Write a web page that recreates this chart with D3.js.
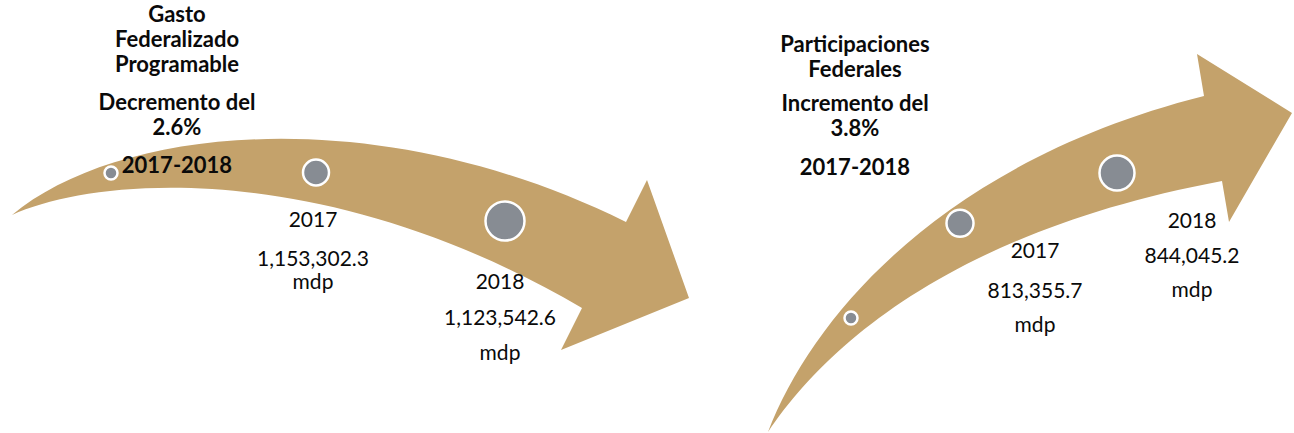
<!DOCTYPE html>
<html lang="es">
<head>
<meta charset="utf-8">
<title>Gasto Federalizado Programable y Participaciones Federales 2017-2018</title>
<script src="https://cdn.jsdelivr.net/npm/d3@7"></script>
<style>
  html, body { margin: 0; padding: 0; background: #ffffff; }
  svg { display: block; }
  text { font-family: Lato, "Open Sans", "Noto Sans", sans-serif; fill: #0a0a0a; }
  .titulo { font-weight: 700; font-size: 22px; }
  .valor { font-weight: 400; font-size: 21px; }
</style>
</head>
<body>
<svg id="chart" width="1294" height="433"></svg>
<script>
// ---- Datos (millones de pesos) ----
const years = ["2017", "2018"];
const gastoProgramable = [1153302.3, 1123542.6];
const participaciones = [813355.7, 844045.2];
const tituloGasto = ["Gasto", "Federalizado", "Programable"];
const tituloParticipaciones = ["Participaciones", "Federales"];
const unidad = "mdp";
const pasos = ["inicio", "2017", "2018"];

// ---- Geometría de cada flecha y ubicación de los textos ----
const paneles = [
  {
    titulo: tituloGasto,
    valores: gastoProgramable,
    flecha: {
      cola: [12, 215],
      arriba: [[120, 125], [380, 100]],
      muescaSup: [626, 222],
      puntaSup: [647, 180],
      punta: [689, 298],
      puntaInf: [561, 350],
      muescaInf: [582, 308],
      abajo: [[100, 175], [330, 160]]
    },
    guia: [[111, 173], [324, 148], [505, 221]],
    radios: [6.5, 13, 19.5],
    tituloX: 177,
    tituloY: [22, 47, 72],
    cambioY: [110, 135],
    periodoY: 173,
    etiquetas: [
      { x: 313, y: [227, 266, 289] },
      { x: 500, y: [289, 325, 360] }
    ]
  },
  {
    titulo: tituloParticipaciones,
    valores: participaciones,
    flecha: {
      cola: [768, 432],
      arriba: [[815, 310], [950, 160]],
      muescaSup: [1204, 96],
      puntaSup: [1197, 54],
      punta: [1292, 113],
      puntaInf: [1229, 222],
      muescaInf: [1222, 181],
      abajo: [[830, 340], [960, 230]]
    },
    guia: [[851, 318], [936, 201], [1117, 173]],
    radios: [6.5, 13.5, 17.5],
    tituloX: 855,
    tituloY: [52, 77],
    cambioY: [111, 136],
    periodoY: 175,
    etiquetas: [
      { x: 1035, y: [258, 298, 332] },
      { x: 1192, y: [228, 263, 297] }
    ]
  }
];

const colorFlecha = "#c4a26b";
const colorNodo = "#878c93";
const fmtValor = d3.format(",.1f");
const fmtPct = d3.format(".1f");

const svg = d3.select("#chart");

// Punto sobre una curva cuadrática de guía, parámetro t en [0, 1]
function puntoGuia(g, t) {
  const [p0, c, p2] = g;
  const a = (1 - t) * (1 - t), b = 2 * t * (1 - t), d = t * t;
  return [a * p0[0] + b * c[0] + d * p2[0], a * p0[1] + b * c[1] + d * p2[1]];
}

function contornoFlecha(f) {
  const p = d3.path();
  p.moveTo(...f.cola);
  p.bezierCurveTo(...f.arriba[0], ...f.arriba[1], ...f.muescaSup);
  p.lineTo(...f.puntaSup);
  p.lineTo(...f.punta);
  p.lineTo(...f.puntaInf);
  p.lineTo(...f.muescaInf);
  p.bezierCurveTo(...f.abajo[1], ...f.abajo[0], ...f.cola);
  p.closePath();
  return p.toString();
}

paneles.forEach(panel => {
  const g = svg.append("g");

  // Flecha curva
  g.append("path")
    .attr("d", contornoFlecha(panel.flecha))
    .attr("fill", colorFlecha);

  // Nodos a lo largo de la flecha: inicio, 2017, 2018
  const tScale = d3.scalePoint().domain(pasos).range([0, 1]);
  const rScale = d3.scaleOrdinal().domain(pasos).range(panel.radios);
  g.selectAll("circle.nodo")
    .data(pasos)
    .join("circle")
    .attr("class", "nodo")
    .attr("cx", d => puntoGuia(panel.guia, tScale(d))[0])
    .attr("cy", d => puntoGuia(panel.guia, tScale(d))[1])
    .attr("r", d => rScale(d))
    .attr("fill", colorNodo)
    .attr("stroke", "#ffffff")
    .attr("stroke-width", 2.5);

  // Título del concepto
  const titulo = g.append("text")
    .attr("class", "titulo")
    .attr("text-anchor", "middle");
  titulo.selectAll("tspan")
    .data(panel.titulo)
    .join("tspan")
    .attr("x", panel.tituloX)
    .attr("y", (d, i) => panel.tituloY[i])
    .text(d => d);

  // Variación porcentual 2017-2018
  const [v0, v1] = panel.valores;
  const cambio = (v1 / v0 - 1) * 100;
  const lineasCambio = [
    (cambio < 0 ? "Decremento del" : "Incremento del"),
    fmtPct(Math.abs(cambio)) + "%"
  ];
  const txtCambio = g.append("text")
    .attr("class", "titulo")
    .attr("text-anchor", "middle");
  txtCambio.selectAll("tspan")
    .data(lineasCambio)
    .join("tspan")
    .attr("x", panel.tituloX)
    .attr("y", (d, i) => panel.cambioY[i])
    .text(d => d);

  g.append("text")
    .attr("class", "titulo")
    .attr("text-anchor", "middle")
    .attr("x", panel.tituloX)
    .attr("y", panel.periodoY)
    .text(years[0] + "-" + years[years.length - 1]);

  // Monto de cada año
  years.forEach((yr, i) => {
    const et = panel.etiquetas[i];
    const lineas = [yr, fmtValor(panel.valores[i]), unidad];
    const t = g.append("text")
      .attr("class", "valor")
      .attr("text-anchor", "middle");
    t.selectAll("tspan")
      .data(lineas)
      .join("tspan")
      .attr("x", et.x)
      .attr("y", (d, j) => et.y[j])
      .text(d => d);
  });
});
</script>
</body>
</html>
